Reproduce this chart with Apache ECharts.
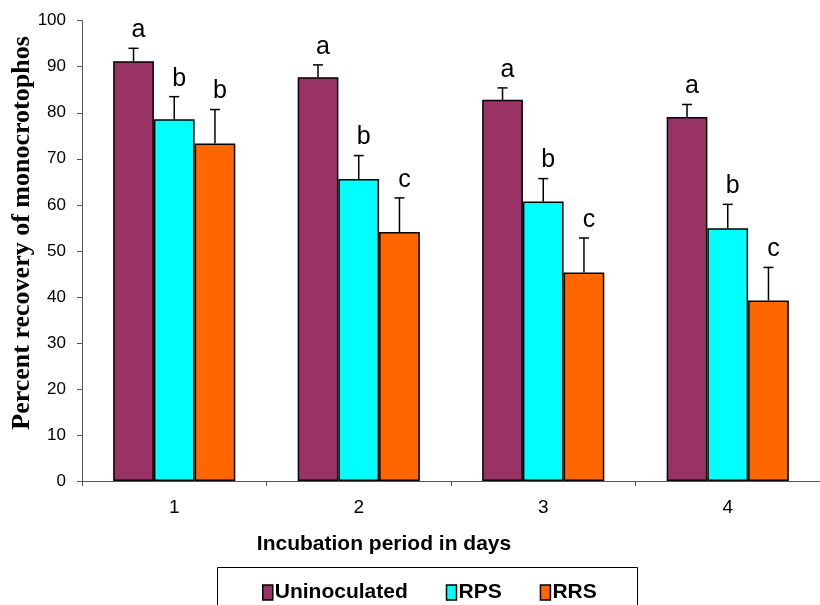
<!DOCTYPE html>
<html>
<head>
<meta charset="utf-8">
<script src="https://cdn.jsdelivr.net/npm/echarts@6/dist/echarts.min.js"></script>
<style>html,body{margin:0;padding:0;background:#fff}#c{width:820px;height:605px}</style>
</head>
<body>
<div id="c"></div>
<script>
const categories = ['1', '2', '3', '4'];
const seriesNames = ['Uninoculated', 'RPS', 'RRS'];
const uninoculated = [91.2, 87.7, 82.8, 79.1];
const rps = [78.6, 65.6, 60.7, 54.9];
const rrs = [73.3, 54.1, 45.3, 39.2];
const uninoculatedErr = [2.8, 2.7, 2.6, 2.7];
const rpsErr = [4.9, 5.1, 5.0, 5.2];
const rrsErr = [7.4, 7.4, 7.5, 7.2];
const uninoculatedLetters = ['a', 'a', 'a', 'a'];
const rpsLetters = ['b', 'b', 'b', 'b'];
const rrsLetters = ['b', 'c', 'c', 'c'];
const yTicks = [0, 10, 20, 30, 40, 50, 60, 70, 80, 90, 100];

const colors = ['#993366', '#00FFFF', '#FF6600'];
const values = [uninoculated, rps, rrs];
const errs = [uninoculatedErr, rpsErr, rrsErr];
const letters = [uninoculatedLetters, rpsLetters, rrsLetters];
const GAP = 0.338;

const chart = echarts.init(document.getElementById('c'), null, {renderer: 'canvas'});

function errRenderer(k) {
  return function (params, api) {
    const i = api.value(0), v = api.value(1), e = api.value(2);
    const base = api.coord([i, v]);
    const top = api.coord([i, v + e]);
    const band = api.size([1, 0])[0];
    const bw = band * (1 - GAP) / 3;
    const x = base[0] + (k - 1) * bw;
    const lt = letters[k][params.dataIndex];
    return {
      type: 'group',
      children: [
        {type: 'line', shape: {x1: x, y1: base[1], x2: x, y2: top[1]}, style: {stroke: '#000', lineWidth: 1.5}},
        {type: 'line', shape: {x1: x - 5, y1: top[1], x2: x + 5, y2: top[1]}, style: {stroke: '#000', lineWidth: 1.5}},
        {type: 'text', x: x + 5, y: top[1] - 18, style: {text: lt, fill: '#000', font: '25px "Liberation Sans", Arial', align: 'center', verticalAlign: 'middle'}}
      ]
    };
  };
}

const series = [];
for (let k = 0; k < 3; k++) {
  series.push({
    name: seriesNames[k],
    type: 'bar',
    data: values[k],
    barGap: '0%',
    barCategoryGap: (GAP * 100) + '%',
    itemStyle: {color: colors[k], borderColor: '#000', borderWidth: 1.5},
    emphasis: {disabled: true}
  });
}
for (let k = 0; k < 3; k++) {
  series.push({
    type: 'custom',
    renderItem: errRenderer(k),
    data: values[k].map((v, i) => [i, v, errs[k][i]]),
    encode: {x: 0, y: 1},
    clip: false,
    silent: true,
    z: 5
  });
}

chart.setOption({
  animation: false,
  backgroundColor: '#fff',
  grid: {left: 82, right: -5, top: 20.7, bottom: 124, containLabel: false},
  xAxis: {
    type: 'category',
    data: categories,
    boundaryGap: true,
    axisLine: {lineStyle: {color: '#555', width: 1}},
    axisTick: {show: true, inside: false, length: 5, lineStyle: {color: '#555'}},
    axisLabel: {color: '#000', fontSize: 19, fontFamily: '"Liberation Sans", Arial', margin: 17}
  },
  yAxis: {
    type: 'value',
    min: 0, max: 100, interval: 10,
    splitLine: {show: false},
    axisLine: {show: true, lineStyle: {color: '#555', width: 1}},
    axisTick: {show: true, inside: false, length: 5, lineStyle: {color: '#555'}},
    axisLabel: {color: '#000', fontSize: 17, fontFamily: '"Liberation Sans", Arial', margin: 16,
      formatter: v => (yTicks.indexOf(v) >= 0 ? String(v) : '')}
  },
  legend: {
    data: seriesNames,
    left: 257, top: 577,
    icon: 'rect',
    itemWidth: 10, itemHeight: 15, itemGap: 38,
    itemStyle: {borderColor: '#000', borderWidth: 1.5},
    textStyle: {color: '#000', fontSize: 21, fontWeight: 'bold', fontFamily: '"Liberation Sans", Arial', padding: [0, 0, 0, -3]},
    selectedMode: false
  },
  graphic: [
    {type: 'text', x: 22, y: 233, rotation: Math.PI / 2,
      style: {text: 'Percent recovery of monocrotophos', fill: '#000', font: 'bold 26px "Liberation Serif", "Times New Roman", serif', align: 'center', verticalAlign: 'middle'}},
    {type: 'text', x: 384, y: 544,
      style: {text: 'Incubation period in days', fill: '#000', font: 'bold 21px "Liberation Sans", Arial', align: 'center', verticalAlign: 'middle'}},
    {type: 'rect', shape: {x: 217.5, y: 567.5, width: 420, height: 50},
      style: {fill: 'none', stroke: '#000', lineWidth: 1}, z: -1}
  ],
  series: series
});
</script>
</body>
</html>
